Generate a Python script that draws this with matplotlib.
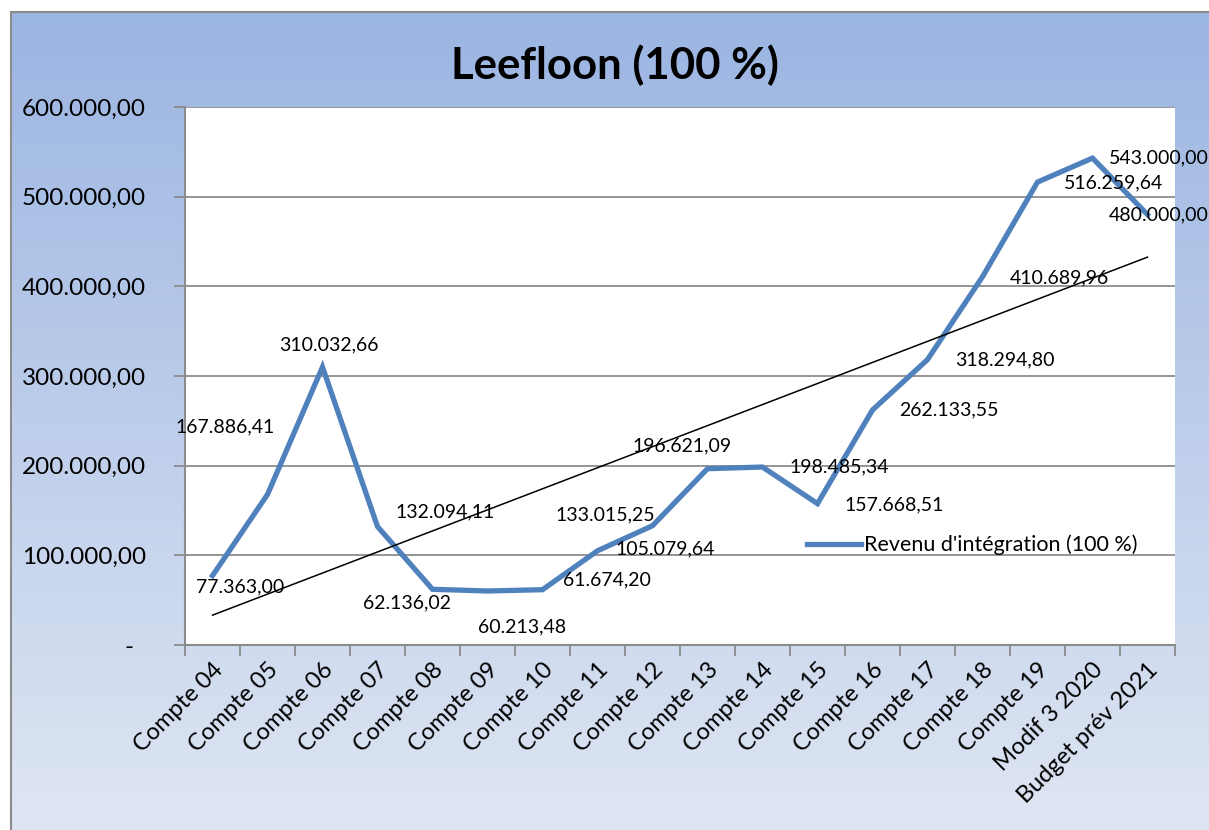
import numpy as np
import matplotlib
matplotlib.use("Agg")
import matplotlib.pyplot as plt
from matplotlib.lines import Line2D
from matplotlib.ticker import FuncFormatter, MultipleLocator

categories = ["Compte 04", "Compte 05", "Compte 06", "Compte 07", "Compte 08", "Compte 09",
              "Compte 10", "Compte 11", "Compte 12", "Compte 13", "Compte 14", "Compte 15",
              "Compte 16", "Compte 17", "Compte 18", "Compte 19", "Modif 3 2020", "Budget prév 2021"]
values = [77363.00, 167886.41, 310032.66, 132094.11, 62136.02, 60213.48,
          61674.20, 105079.64, 133015.25, 196621.09, 198485.34, 157668.51,
          262133.55, 318294.80, 410689.96, 516259.64, 543000.00, 480000.00]
series_name = "Revenu d'intégration (100 %)"
title = "Leefloon (100 %)"

# label offsets in pixels (dx, dy) relative to each point (Excel-like placement)
label_offsets = [(28, -11), (-42, 68), (6, 22), (68, 15), (-25, -14), (35, -36),
                 (64, 10), (68, 2), (-47, 11), (-25, 23), (77, 0), (77, -1),
                 (76, 0), (77, 0), (77, -1), (76, -1), (66, 0), (11, 0)]

plt.rcParams['font.family'] = ['Lato', 'DejaVu Sans']

W, H = 1209, 830
fig = plt.figure(figsize=(W / 100, H / 100), dpi=100)
fig.patch.set_facecolor("white")

# gradient background
bg = fig.add_axes([11 / W, 0, 1 - 11 / W, 1 - 13 / H])
bg.set_axis_off()
top_c = np.array([155, 181, 226]) / 255
bot_c = np.array([223, 230, 243]) / 255
t = np.linspace(0, 1, 256)[:, None]
grad = top_c[None, :] * (1 - t) + bot_c[None, :] * t
bg.imshow(grad[:, None, :], aspect="auto", extent=[0, 1, 0, 1])
fig.add_artist(Line2D([10.5 / W, 10.5 / W], [0, 1 - 12.5 / H], transform=fig.transFigure, color="#8c8c8c", lw=1.5))
fig.add_artist(Line2D([10.5 / W, 1], [1 - 12.5 / H, 1 - 12.5 / H], transform=fig.transFigure, color="#8c8c8c", lw=1.5))

ax = fig.add_axes([185 / W, 1 - 645 / H, (1175 - 185) / W, (645 - 107) / H])
ax.set_facecolor("white")
x = np.arange(len(categories))
ax.plot(x, values, color="#4f81bd", lw=3.8, solid_joinstyle="miter", label=series_name, zorder=3)

coef = np.polyfit(x, values, 1)
ax.plot(x, np.polyval(coef, x), color="black", lw=1.1, zorder=4)

for xi, v, (dx, dy) in zip(x, values, label_offsets):
    txt = f"{v:,.2f}".replace(",", "X").replace(".", ",").replace("X", ".")
    ax.annotate(txt, (xi, v), xytext=(dx, dy), textcoords="offset pixels",
                ha="center", va="center", fontsize=14, color="black", zorder=5,
                annotation_clip=False)

ax.set_xlim(-0.5, len(categories) - 0.5)
ax.set_ylim(0, 600000)
ax.yaxis.set_major_locator(MultipleLocator(100000))
ax.grid(axis="y", color="#8c8c8c", lw=1.3)
ax.set_axisbelow(True)

def yfmt(v, pos):
    if v == 0:
        return "-  "
    return f"{v:,.2f}".replace(",", "X").replace(".", ",").replace("X", ".")
ax.yaxis.set_major_formatter(FuncFormatter(yfmt))
ax.tick_params(axis="y", labelsize=17.5, length=8, width=1.3, color="#8c8c8c", pad=20)

ax.set_xticks(np.arange(len(categories) + 1) - 0.5, minor=False)
ax.set_xticklabels([])
ax.set_xticks(x, minor=True)
ax.set_xticklabels(categories, minor=True, rotation=45, ha="right", rotation_mode="anchor", fontsize=17)
ax.tick_params(axis="x", which="major", length=8, width=1.3, color="#8c8c8c")
ax.tick_params(axis="x", which="minor", length=0, pad=10)

for s in ["top", "right"]:
    ax.spines[s].set_visible(False)
for s in ["left", "bottom"]:
    ax.spines[s].set_color("#8c8c8c")
    ax.spines[s].set_linewidth(1.5)

leg = ax.legend(loc="center left", bbox_to_anchor=((807 - 185) / 990, (645 - 545) / 538),
                frameon=False, fontsize=15.5, handlelength=2.5, handletextpad=0.15,
                borderpad=0, borderaxespad=0)

fig.text(615 / W, 1 - 65 / H, title, ha="center", va="center", fontsize=31.5, fontweight="bold")

fig.savefig("out.png", dpi=100, facecolor=fig.get_facecolor())
